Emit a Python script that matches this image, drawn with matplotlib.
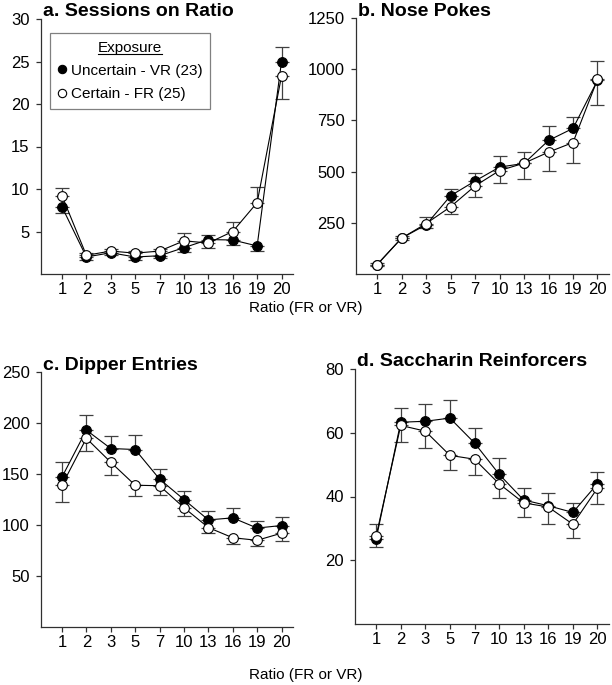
import numpy as np
import matplotlib
matplotlib.use('Agg')
import matplotlib.pyplot as plt
from matplotlib.lines import Line2D

plt.rcParams['font.family'] = ['Liberation Sans', 'DejaVu Sans']

# ratio steps (categorical x axis)
ratios = ['1', '2', '3', '5', '7', '10', '13', '16', '19', '20']

# a. sessions on ratio
sess_vr = [7.9, 2.0, 2.5, 2.0, 2.15, 3.1, 4.05, 4.0, 3.3, 25.0]
sess_vr_err = [0.7, 0.3, 0.3, 0.3, 0.3, 0.5, 0.55, 0.55, 0.55, 1.7]
sess_fr = [9.2, 2.2, 2.7, 2.45, 2.7, 3.9, 3.65, 5.0, 8.4, 23.3]
sess_fr_err = [0.9, 0.3, 0.3, 0.3, 0.3, 0.9, 0.6, 1.1, 1.8, 2.7]

# b. nose pokes
poke_vr = [45, 175, 240, 382, 454, 522, 540, 652, 711, 945]
poke_vr_err = [8, 10, 15, 32, 38, 55, 78, 73, 55, 120]
poke_fr = [46, 175, 246, 328, 430, 505, 541, 595, 642, 950]
poke_fr_err = [8, 10, 30, 35, 53, 59, 57, 92, 98, 88]

# c. dipper entries
dip_vr = [147, 193, 175, 174, 145, 125, 105, 107, 97, 99.5]
dip_vr_err = [15, 15, 12.5, 14.5, 9.5, 8.5, 9, 10, 7, 8.5]
dip_fr = [139, 185, 161.5, 139, 138.5, 117, 97.5, 87.5, 85, 92]
dip_fr_err = [16, 12.5, 12.5, 10.5, 9.5, 8, 5.2, 6.3, 6, 7.2]

# d. saccharin reinforcers
sac_vr = [26.7, 63.3, 63.6, 64.6, 56.8, 47, 38.9, 37.1, 35, 44]
sac_vr_err = [2.4, 4.4, 5.4, 5.6, 4.8, 5, 3.8, 4.1, 2.9, 3.8]
sac_fr = [27.6, 62.3, 60.5, 52.9, 51.7, 44, 38, 36.7, 31.3, 42.6]
sac_fr_err = [3.7, 5.1, 5.3, 4.6, 5, 4.5, 4.3, 5.2, 4.4, 4.9]

panels = [
    ('a. Sessions on Ratio', sess_vr, sess_vr_err, sess_fr, sess_fr_err, 30, [5, 10, 15, 20, 25, 30]),
    ('b. Nose Pokes', poke_vr, poke_vr_err, poke_fr, poke_fr_err, 1250, [250, 500, 750, 1000, 1250]),
    ('c. Dipper Entries', dip_vr, dip_vr_err, dip_fr, dip_fr_err, 250, [50, 100, 150, 200, 250]),
    ('d. Saccharin Reinforcers', sac_vr, sac_vr_err, sac_fr, sac_fr_err, 80, [20, 40, 60, 80]),
]

W, H = 612, 685
fig = plt.figure(figsize=(W / 100, H / 100), dpi=100)

# axes boxes in pixels: left, right, top, bottom
boxes = [(41, 293, 19, 274), (356, 609, 18, 274), (41, 293, 372, 627), (355, 609, 369, 624)]

x = np.arange(len(ratios))
axes = []
for (title, vr, vr_err, fr, fr_err, ymax, yticks), (l, r, t, b) in zip(panels, boxes):
    ax = fig.add_axes([l / W, 1 - b / H, (r - l) / W, (b - t) / H])
    vr = np.array(vr)
    fr = np.array(fr)
    vr_err = np.array(vr_err)
    fr_err = np.array(fr_err)
    up = vr >= fr  # the upper series gets the bar going up, the lower one going down
    vr_yerr = [np.where(up, 0, vr_err), np.where(up, vr_err, 0)]
    fr_yerr = [np.where(up, fr_err, 0), np.where(up, 0, fr_err)]
    ax.errorbar(x, vr, yerr=vr_yerr, fmt='none', ecolor='#404040', elinewidth=0.9, capsize=5, capthick=0.9, zorder=1)
    ax.errorbar(x, fr, yerr=fr_yerr, fmt='none', ecolor='#404040', elinewidth=0.9, capsize=5, capthick=0.9, zorder=1)
    ax.plot(x, vr, '-o', color='black', lw=0.8, ms=7, mfc='black', mec='black', mew=0.8, zorder=3)
    ax.plot(x, fr, '-o', color='black', lw=0.8, ms=7, mfc='white', mec='black', mew=0.8, zorder=4)
    ax.set_xlim(-0.86, 9.47)
    ax.set_ylim(0, ymax)
    ax.set_xticks(x)
    ax.set_xticklabels(ratios)
    ax.set_yticks(yticks)
    for s in ['top', 'right']:
        ax.spines[s].set_visible(False)
    for s in ['left', 'bottom']:
        ax.spines[s].set_linewidth(0.9)
        ax.spines[s].set_color('#303030')
    ax.tick_params(axis='both', labelsize=12, length=3.6, width=0.9, color='#303030')
    ax.tick_params(axis='x', pad=2.5)
    ax.tick_params(axis='y', pad=4.5)
    ax.text(0.008, 1 + 2.5 / (b - t), title, transform=ax.transAxes, fontsize=14, fontweight='bold',
            ha='left', va='baseline')
    axes.append(ax)

fig.text(306 / W, 1 - 308 / H, 'Ratio (FR or VR)', ha='center', va='center', fontsize=11)
fig.text(306 / W, 1 - 675 / H, 'Ratio (FR or VR)', ha='center', va='center', fontsize=11)

# legend in panel a
handles = [Line2D([], [], marker='o', ls='none', ms=6, mfc='black', mec='black', mew=0.8),
           Line2D([], [], marker='o', ls='none', ms=6, mfc='white', mec='black', mew=0.8)]
leg = axes[0].legend(handles, ['Uncertain - VR (23)', 'Certain - FR (25)'], title='Exposure',
                     loc='upper left', bbox_to_anchor=(0.036, 0.945), borderaxespad=0,
                     fontsize=11, title_fontsize=11, fancybox=False, framealpha=1,
                     edgecolor='#808080', handlelength=0.6, handletextpad=0.25,
                     labelspacing=0.6, borderpad=0.5)
leg.get_frame().set_linewidth(0.9)

# underline the legend title
fig.canvas.draw()
bb = leg.get_title().get_window_extent(fig.canvas.get_renderer())
fig.add_artist(Line2D([bb.x0 / W, bb.x1 / W], [(bb.y0 + 1) / H, (bb.y0 + 1) / H],
                      transform=fig.transFigure, color='black', lw=0.8))

fig.savefig('out.png', dpi=100)
